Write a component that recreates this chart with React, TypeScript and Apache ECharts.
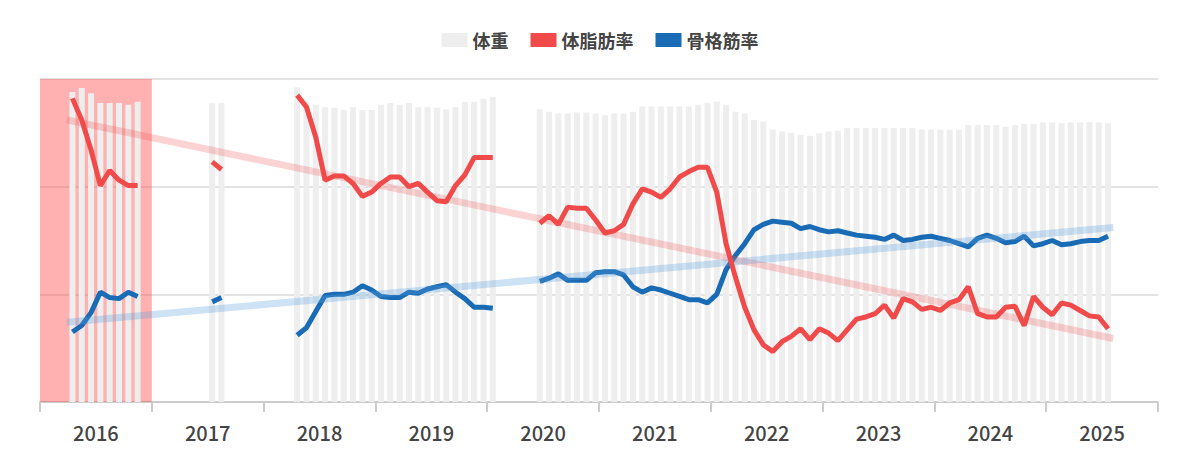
import { useRef, useEffect } from 'react';
import * as echarts from 'echarts';

const years = ['2016', '2017', '2018', '2019', '2020', '2021', '2022', '2023', '2024', '2025'];

// each segment: first point as decimal year, then monthly values
const segStarts = [2016.29, 2017.54, 2018.30, 2020.47];

const weight = [
    [72.0, 72.9, 71.7, 69.4, 69.4, 69.4, 69.0, 69.7],
    [69.4, 69.4],
    [73.1, 69.7, 69.0, 68.5, 68.3, 67.8, 68.5, 67.8, 67.8, 69.0, 69.4, 69.0, 69.4, 68.5, 68.5, 68.3, 68.0, 68.5, 69.7, 69.7, 70.4, 70.8],
    [68.0, 67.4, 67.0, 67.0, 67.2, 67.2, 67.0, 66.6, 67.0, 67.0, 67.4, 68.6, 68.6, 68.6, 68.6, 68.6, 68.6, 69.0, 69.4, 69.7,
        69.0, 67.4, 67.0, 65.5, 65.1, 63.2, 62.8, 62.5, 62.0, 61.8, 62.4, 62.8, 63.0, 63.6, 63.6, 63.6, 63.6, 63.6, 63.6, 63.6,
        63.6, 63.3, 63.3, 63.2, 63.2, 63.2, 64.3, 64.3, 64.3, 64.3, 63.9, 64.3, 64.6, 64.6, 64.9, 64.9, 64.7, 64.9, 64.9, 65.0,
        64.9, 64.7],
];

const bodyFat = [
    [28.2, 26.2, 23.4, 20.1, 21.5, 20.6, 20.1, 20.1],
    [22.3, 21.6],
    [28.5, 27.4, 24.6, 20.6, 21.0, 21.0, 20.3, 19.1, 19.5, 20.3, 20.9, 20.9, 20.0, 20.3, 19.5, 18.7, 18.6, 20.1, 21.1, 22.7, 22.7, 22.7],
    [16.6, 17.3, 16.5, 18.1, 18.0, 18.0, 16.9, 15.7, 15.9, 16.5, 18.4, 19.8, 19.5, 19.0, 19.8, 20.9, 21.4, 21.8, 21.8, 19.5,
        14.7, 11.6, 8.8, 6.7, 5.3, 4.7, 5.6, 6.1, 6.8, 5.8, 6.8, 6.4, 5.7, 6.7, 7.7, 7.9, 8.2, 9.0, 7.8, 9.6,
        9.3, 8.6, 8.8, 8.5, 9.2, 9.5, 10.7, 8.2, 7.9, 7.9, 8.8, 8.9, 7.1, 9.8, 8.8, 8.1, 9.2, 9.0, 8.5, 8.0,
        7.9, 6.8],
];

const muscle = [
    [6.5, 7.1, 8.3, 10.2, 9.7, 9.6, 10.2, 9.8],
    [9.3, 9.7],
    [6.2, 6.9, 8.4, 9.9, 10.0, 10.0, 10.2, 10.8, 10.4, 9.8, 9.7, 9.7, 10.2, 10.1, 10.5, 10.7, 10.9, 10.2, 9.6, 8.8, 8.8, 8.7],
    [11.2, 11.5, 11.9, 11.3, 11.3, 11.3, 12.0, 12.1, 12.1, 11.8, 10.7, 10.2, 10.6, 10.4, 10.1, 9.8, 9.5, 9.5, 9.2, 10.0,
        12.3, 13.6, 14.7, 16.0, 16.5, 16.8, 16.7, 16.6, 16.1, 16.3, 16.0, 15.8, 15.9, 15.7, 15.5, 15.4, 15.3, 15.1, 15.5, 15.0,
        15.1, 15.3, 15.4, 15.2, 15.0, 14.7, 14.4, 15.2, 15.5, 15.2, 14.8, 14.9, 15.4, 14.5, 14.7, 15.0, 14.6, 14.7, 14.9, 15.0,
        15.0, 15.4],
];

const fatTrend = [[2016.24, 26.2], [2025.6, 5.9]];
const muscleTrend = [[2016.24, 7.4], [2025.6, 16.2]];
const highlight = [2016, 2017];

const toPoints = (segs: number[][], gaps: boolean) => {
    const out: (number | null)[][] = [];
    segs.forEach((seg, s) => {
        seg.forEach((v, i) => out.push([segStarts[s] + i / 12, v]));
        if (gaps && s < segs.length - 1) out.push([segStarts[s] + seg.length / 12, null]);
    });
    return out;
};

const App = () => {
    const chartRef = useRef<HTMLDivElement>(null);

    useEffect(() => {
        if (!chartRef.current) return;
        const chart = echarts.init(chartRef.current, null, { renderer: 'svg' });
        const font = "'Noto Sans CJK JP', 'Noto Sans', sans-serif";
        chart.setOption({
            animation: false,
            textStyle: { fontFamily: font },
            legend: {
                top: 26,
                left: 'center',
                icon: 'rect',
                itemWidth: 26,
                itemHeight: 14,
                itemGap: 22,
                data: ['体重', '体脂肪率', '骨格筋率'],
                textStyle: { fontSize: 18, fontWeight: 'bold', color: '#444', fontFamily: font },
            },
            grid: { left: 40, right: 42, top: 79, bottom: 69 },
            xAxis: [
                {
                    type: 'value', min: 2016, max: 2026, interval: 1,
                    axisLabel: { show: false },
                    axisLine: { lineStyle: { color: '#ccc', width: 2 } },
                    axisTick: { show: true, length: 10, lineStyle: { color: '#ccc', width: 2 } },
                    splitLine: { show: false },
                },
                {
                    type: 'category', data: years, position: 'bottom',
                    axisLine: { show: false }, axisTick: { show: false },
                    axisLabel: { fontSize: 20, color: '#444', margin: 20, fontWeight: 500, fontFamily: font },
                },
            ],
            yAxis: [
                {
                    type: 'value', min: 0, max: 30, interval: 10,
                    axisLabel: { show: false }, axisLine: { show: false }, axisTick: { show: false },
                    splitLine: { lineStyle: { color: '#e3e3e3', width: 2 } },
                },
                { type: 'value', min: 0, max: 75, show: false, splitLine: { show: false } },
            ],
            series: [
                {
                    name: '体重', type: 'bar', yAxisIndex: 1, barWidth: 6, z: 1,
                    itemStyle: { color: '#eeeeee' },
                    data: toPoints(weight, false),
                },
                {
                    name: '骨格筋率', type: 'line', showSymbol: false, z: 2,
                    lineStyle: { color: '#1a6bb5', width: 5 }, itemStyle: { color: '#1a6bb5' },
                    data: toPoints(muscle, true),
                },
                {
                    type: 'line', showSymbol: false, z: 3, silent: true,
                    lineStyle: { color: 'rgba(240,80,80,0.25)', width: 7 },
                    data: fatTrend,
                },
                {
                    type: 'line', showSymbol: false, z: 3, silent: true,
                    lineStyle: { color: 'rgba(90,160,220,0.3)', width: 7 },
                    data: muscleTrend,
                },
                {
                    name: '体脂肪率', type: 'line', showSymbol: false, z: 5,
                    lineStyle: { color: '#f04a4a', width: 5 }, itemStyle: { color: '#f04a4a' },
                    data: toPoints(bodyFat, true),
                    markArea: {
                        silent: true,
                        itemStyle: { color: 'rgba(255,80,80,0.45)' },
                        data: [[{ xAxis: highlight[0] }, { xAxis: highlight[1] }]],
                    },
                },
            ],
        });
        return () => chart.dispose();
    }, []);

    return <div ref={chartRef} style={{ position: 'absolute', left: 0, top: 0, width: 1200, height: 471 }} />;
};

export default App;
